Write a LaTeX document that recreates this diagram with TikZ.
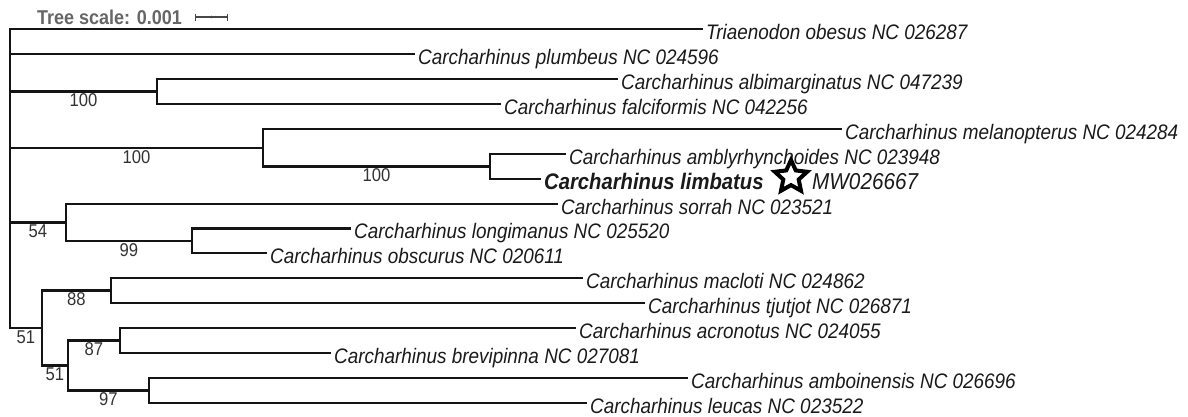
\documentclass[tikz,border=0pt]{standalone}
\usepackage{fontspec}
\setmainfont{Liberation Sans}[FakeStretch=0.9]
\usetikzlibrary{shapes.geometric,arrows.meta}
\definecolor{treeline}{HTML}{141414}
\definecolor{leafcol}{HTML}{1A1A1A}
\definecolor{bootcol}{HTML}{333333}
\definecolor{scalegray}{HTML}{666666}
\begin{document}
\begin{tikzpicture}[x=1pt,y=-1pt,
	branch/.style={draw=treeline,line width=2.4pt},
	leaf/.style={anchor=west,inner xsep=3pt,inner ysep=0pt,text height=20pt,text depth=0pt,
		font=\fontsize{21}{25}\selectfont\itshape,text=leafcol},
	boot/.style={font=\fontsize{18.5}{22}\selectfont,text=bootcol,inner sep=0pt,yshift=-9pt},
	markstar/.style={star,star points=5,star point ratio=2.1,minimum size=34pt,inner sep=0pt,
		draw=black,line width=4pt,fill=white}]
	\useasboundingbox (0,0) rectangle (1188,416);

	% Escala
	\node[anchor=west,inner sep=0pt,font=\fontsize{20}{24}\selectfont\bfseries,text=scalegray]
		(tscale) at (37,17) {Tree scale: 0.001};
	\coordinate (sbl) at (195,17);
	\coordinate (sbm) at (211.5,17);
	\coordinate (sbr) at (228,17);
	\draw[draw=scalegray!70!black,line width=1.3pt,{Bar[width=7pt]}-{Bar[width=7pt]}] (sbl) -- (sbr);
	\fill[scalegray!70!black] (sbm) circle (1.3pt);

	% Nodes interns
	\coordinate (root) at (10,178);
	\coordinate (nalb) at (157,91.5);
	\coordinate (nmel) at (263,147.75);
	\coordinate (namb) at (490,166.5);
	\coordinate (nsor) at (66,222.4);
	\coordinate (nlon) at (192,240.75);
	\coordinate (nbot) at (42,328);
	\coordinate (nmac) at (111,290.5);
	\coordinate (nlow) at (68,365.5);
	\coordinate (nacr) at (120,340.5);
	\coordinate (nabo) at (149,390.5);

	% Fulles
	\foreach \nm/\px/\py/\lab in {
		tobe/703/29/{Triaenodon obesus NC 026287},
		cplu/415/54/{Carcharhinus plumbeus NC 024596},
		calb/618/79/{Carcharhinus albimarginatus NC 047239},
		cfal/501/104/{Carcharhinus falciformis NC 042256},
		cmel/842/129/{Carcharhinus melanopterus NC 024284},
		camb/566/154/{Carcharhinus amblyrhynchoides NC 023948},
		clim/541/179/{\fontsize{22.5}{26}\selectfont\bfseries Carcharhinus limbatus},
		csor/558/204/{Carcharhinus sorrah NC 023521},
		clon/351/228.5/{Carcharhinus longimanus NC 025520},
		cobs/267/253/{Carcharhinus obscurus NC 020611},
		cmac/583/278/{Carcharhinus macloti NC 024862},
		ctju/645/303/{Carcharhinus tjutjot NC 026871},
		cacr/576/328/{Carcharhinus acronotus NC 024055},
		cbre/331/353/{Carcharhinus brevipinna NC 027081},
		cabo/688/378/{Carcharhinus amboinensis NC 026696},
		cleu/587/403/{Carcharhinus leucas NC 023522}} {
		\node[leaf] (\nm) at (\px,\py) {\lab};
	}
	\node[markstar] (lstar) at (791,177) {};
	\node[leaf,font=\fontsize{23}{26}\selectfont\itshape] (lcode) at (809,179) {MW026667};

	% Branques cap a les fulles
	\foreach \a/\b in {root/tobe,root/cplu,nalb/calb,nalb/cfal,nmel/cmel,namb/camb,namb/clim,
		nsor/csor,nlon/clon,nlon/cobs,nmac/cmac,nmac/ctju,nacr/cacr,nacr/cbre,nabo/cabo,nabo/cleu} {
		\draw[branch] (\a) |- (\b.west);
	}

	% Branques internes amb suport
	\foreach \a/\b/\v in {root/nalb/100,root/nmel/100,nmel/namb/100,root/nsor/54,nsor/nlon/99,
		root/nbot/51,nbot/nmac/88,nbot/nlow/51,nlow/nacr/87,nlow/nabo/97} {
		\draw[branch] (\a) |- (\b) node[boot,pos=0.75] {\v};
	}
\end{tikzpicture}
\end{document}
